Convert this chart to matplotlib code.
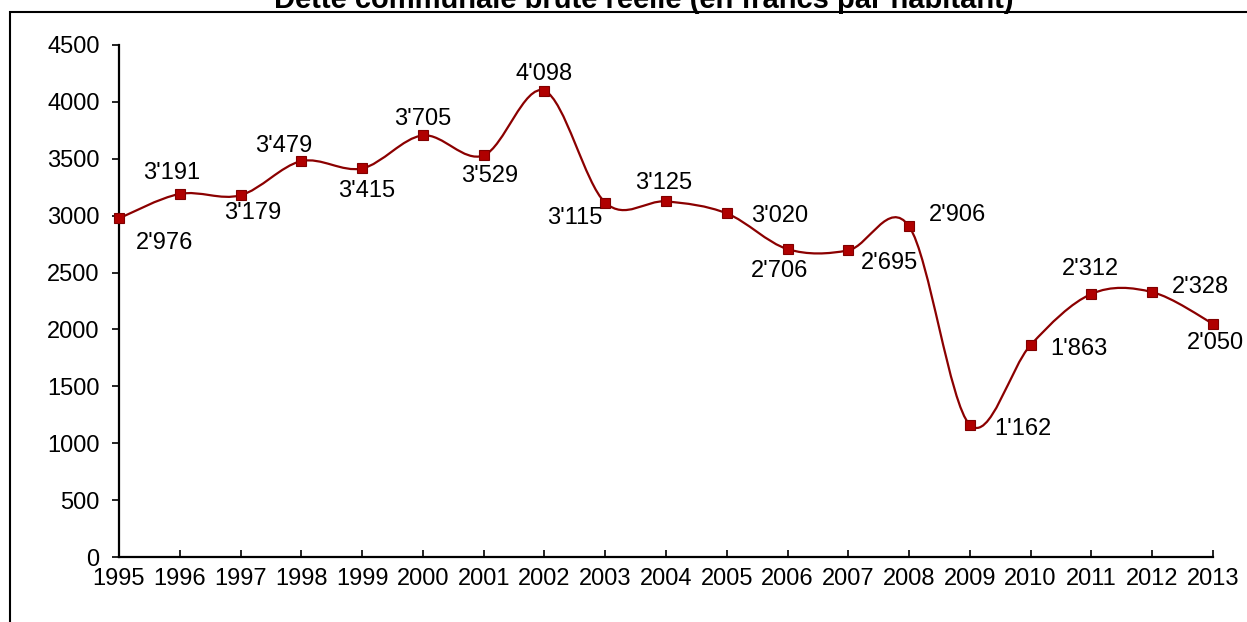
import matplotlib
matplotlib.use("Agg")
import matplotlib.pyplot as plt
from matplotlib.path import Path
from matplotlib.patches import PathPatch, Rectangle

plt.rcParams['font.family'] = ['Liberation Sans', 'DejaVu Sans']

years = list(range(1995, 2014))
debt = [2976, 3191, 3179, 3479, 3415, 3705, 3529, 4098, 3115, 3125,
        3020, 2706, 2695, 2906, 1162, 1863, 2312, 2328, 2050]
labels = ["2'976", "3'191", "3'179", "3'479", "3'415", "3'705", "3'529", "4'098", "3'115", "3'125",
          "3'020", "2'706", "2'695", "2'906", "1'162", "1'863", "2'312", "2'328", "2'050"]
# label offsets in points (dx, dy) relative to each marker
offsets = [(33, -18), (-6, 15), (9, -13), (-13, 11), (3, -16), (0, 12), (4, -15), (0, 12), (-22, -11), (-2, 13),
           (38, -2), (-6, -16), (30, -9), (35, 8), (38, -3), (35, -3), (-1, 18), (35, 4), (2, -14)]

line_col = '#8B0000'
mark_col = '#B00000'

fig = plt.figure(figsize=(12.47, 6.22), dpi=100)
ax = fig.add_axes([0.0954, 0.1045, 0.8773, 0.8232])

# smoothed line (Excel style): cubic Bezier through the points
pts = list(zip(years, debt))
verts = [pts[0]]
codes = [Path.MOVETO]
n = len(pts)
for i in range(n - 1):
    p0 = pts[i - 1] if i > 0 else pts[i]
    p1 = pts[i]
    p2 = pts[i + 1]
    p3 = pts[i + 2] if i + 2 < n else pts[i + 1]
    c1 = (p1[0] + (p2[0] - p0[0]) / 6, p1[1] + (p2[1] - p0[1]) / 6)
    c2 = (p2[0] - (p3[0] - p1[0]) / 6, p2[1] - (p3[1] - p1[1]) / 6)
    verts += [c1, c2, p2]
    codes += [Path.CURVE4] * 3
ax.add_patch(PathPatch(Path(verts, codes), facecolor='none', edgecolor=line_col, lw=1.6, zorder=2))
ax.plot(years, debt, linestyle='none', marker='s', markersize=7,
        markerfacecolor=mark_col, markeredgecolor='#800000', markeredgewidth=0.8, zorder=3, clip_on=False)

for x, y, lab, (dx, dy) in zip(years, debt, labels, offsets):
    ax.annotate(lab, (x, y), xytext=(dx, dy), textcoords='offset points',
                ha='center', va='center', fontsize=17, color='black')

ax.set_xlim(1995, 2013)
ax.set_ylim(0, 4500)
ax.set_xticks(years)
ax.set_yticks(range(0, 4501, 500))
ax.tick_params(axis='x', direction='in', length=5, width=1.2, labelsize=17, pad=8)
ax.tick_params(axis='y', direction='out', length=5, width=1.2, labelsize=17, pad=9)
for s in ['top', 'right']:
    ax.spines[s].set_visible(False)
for s in ['left', 'bottom']:
    ax.spines[s].set_linewidth(1.6)

# outer chart frame (partly outside the image)
fig.patches.append(Rectangle((10 / 1247, -0.1), 1.2, 1 - 12 / 622 + 0.1, transform=fig.transFigure,
                             fill=False, edgecolor='black', lw=1.5))
fig.text(0.516, 1 - 8 / 622, "Dette communale brute réelle (en francs par habitant)",
         ha='center', va='baseline', fontsize=21, fontweight='bold')

plt.savefig("out.png", dpi=100)
